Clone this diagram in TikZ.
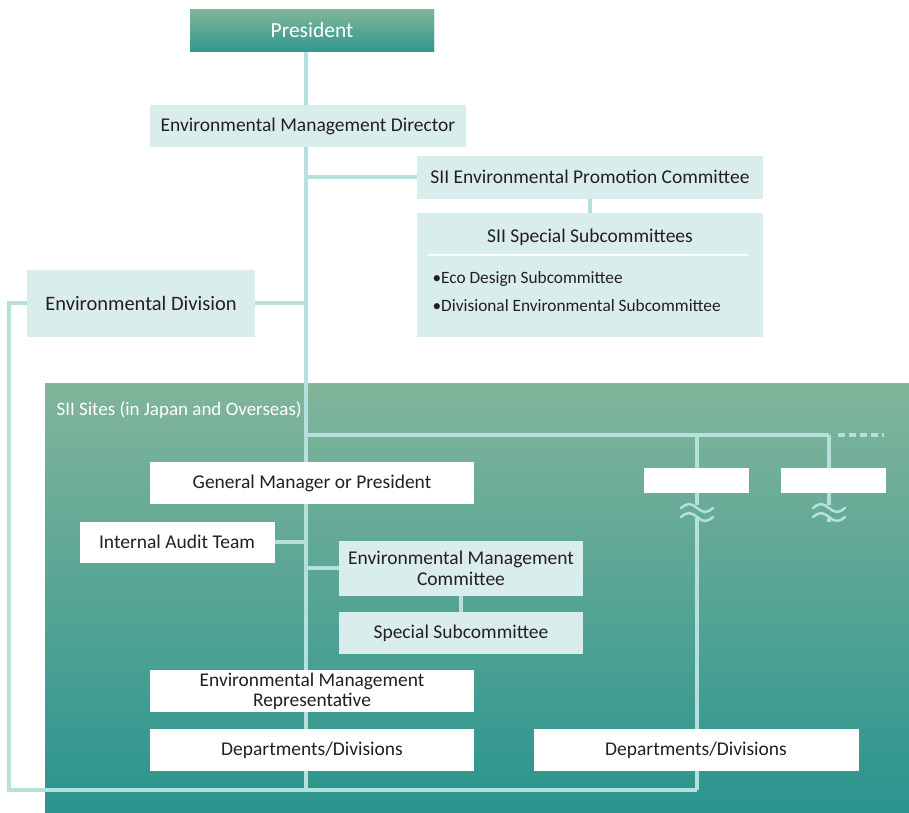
\documentclass[tikz,border=0pt]{standalone}
\usepackage{fontspec}
\setmainfont{Carlito}
\usetikzlibrary{positioning}
\definecolor{linec}{HTML}{B6E0DC}
\definecolor{lightbox}{HTML}{D9EEEC}
\definecolor{gtop}{HTML}{82B59B}
\definecolor{gbot}{HTML}{2A948E}
\definecolor{txt}{HTML}{231F20}
\tikzset{
  conn/.style={draw=linec, line width=3.5pt},
  lbox/.style={fill=lightbox, inner sep=0pt, outer sep=0pt, text=txt, align=center},
  wbox/.style={fill=white, inner sep=0pt, outer sep=0pt, text=txt, align=center},
  gbox/.style={top color=gtop, bottom color=gbot!90!gtop, inner sep=0pt, outer sep=0pt, text=white},
  fa/.style={font=\fontsize{19.5}{21}\selectfont},
}
\begin{document}
\begin{tikzpicture}[x=1pt,y=-1pt]
\useasboundingbox (0,0) rectangle (909,812);
% green region
\shade[top color=gtop, bottom color=gbot] (45,383) rectangle (909,812);
\node[anchor=west, text=white, font=\fontsize{19}{21}\selectfont] (sites) at (53,410) {SII Sites (in Japan and Overseas)};

% coordinates
\coordinate (mainbot) at (306,790);
\coordinate (lcorner) at (9,790);
\coordinate (rbot) at (697,790);
\coordinate (hl) at (306,435);
\coordinate (hr) at (829,435);
\coordinate (hdash) at (884,435);
\coordinate (v1top) at (697,435);
\coordinate (w1a) at (697,505);
\coordinate (w1b) at (697,518);
\coordinate (w2a) at (829,505);
\coordinate (w2b) at (829,518);
\coordinate (w2end) at (829,522);

% nodes
\node[gbox, minimum width=244pt, minimum height=42pt, font=\fontsize{21.5}{23}\selectfont] (pres) at (312,30) {President};
\node[lbox, minimum width=316pt, minimum height=42pt, fa] (dir) at (308,126) {Environmental Management Director};
\node[lbox, minimum width=346pt, minimum height=43pt, fa] (promo) at (590,177) {SII Environmental Promotion Committee};
\node[lbox, minimum width=346pt, minimum height=124pt] (sub) at (590,275) {};
\node[lbox, minimum width=228pt, minimum height=67pt, font=\fontsize{20.5}{22}\selectfont] (envdiv) at (141,303) {Environmental Division};

% connectors
\draw[conn] (pres.south -| mainbot) -- (mainbot);
\draw[conn] (promo.west) -- (promo.west -| mainbot);
\draw[conn] (promo.south) -- (sub.north);
\draw[conn] (envdiv.east) -- (envdiv.east -| mainbot);
\draw[conn] (envdiv.west) -| (lcorner) -- (rbot);
\draw[conn] (hl) -- (hr);
\draw[conn, dash pattern=on 7pt off 4pt] (hr) ++(9,0) -- (hdash);
\draw[conn] (v1top) -- (w1a);
\draw[conn] (w1b) -- (rbot);
\draw[conn] (hr) -- (w2a);
\draw[conn] (w2b) -- (w2end);

% waves
\foreach \cx in {697,829}{
  \foreach \cy in {507,516}{
    \draw[linec, line width=2.5pt, line cap=round] (\cx-16,\cy+1) sin (\cx-8,\cy-3) cos (\cx,\cy+1) sin (\cx+8,\cy+5) cos (\cx+16,\cy+1);
  }
}

% redraw boxes above lines
\node[gbox, minimum width=244pt, minimum height=42pt, font=\fontsize{21.5}{23}\selectfont] at (pres) {President};
\node[lbox, minimum width=316pt, minimum height=42pt, fa] at (dir) {Environmental Management Director};

% subcommittees contents
\node[text=txt, fa] (subt) at (590,237) {SII Special Subcommittees};
\draw[white, line width=1.2pt] (sub.west) ++(11,-20) coordinate (sepl) -- ([xshift=-15pt]sepl -| sub.east);
\node[anchor=west, text=txt, font=\fontsize{17.3}{19}\selectfont] (b1) at (429,279) {\textbullet Eco Design Subcommittee};
\node[anchor=west, text=txt, font=\fontsize{17.3}{19}\selectfont] (b2) at (429,306) {\textbullet Divisional Environmental Subcommittee};

% site boxes
\node[wbox, minimum width=105pt, minimum height=25pt] (s1) at (696,480) {};
\node[wbox, minimum width=105pt, minimum height=25pt] (s2) at (833,480) {};
\node[wbox, minimum width=324pt, minimum height=42pt, fa] (gm) at (312,483) {General Manager or President};
\node[wbox, minimum width=195pt, minimum height=41pt, fa] (audit) at (177,542) {Internal Audit Team};
\node[lbox, minimum width=244pt, minimum height=55pt, font=\fontsize{19.5}{21}\selectfont] (emc) at (461,568) {Environmental Management\\Committee};
\node[lbox, minimum width=244pt, minimum height=42pt, fa] (ssc) at (461,633) {Special Subcommittee};
\node[wbox, minimum width=324pt, minimum height=42pt, font=\fontsize{19.4}{20}\selectfont] (emr) at (312,691) {Environmental Management\\Representative};
\node[wbox, minimum width=324pt, minimum height=42pt, fa] (dep1) at (312,750) {Departments/Divisions};
\node[wbox, minimum width=325pt, minimum height=42pt, fa] (dep2) at (696,750) {Departments/Divisions};

\draw[conn] (audit.east) -- (audit.east -| mainbot);
\draw[conn] (emc.west) -- (emc.west -| mainbot);
\draw[conn] (emc.south) -- (ssc.north);
\end{tikzpicture}
\end{document}
